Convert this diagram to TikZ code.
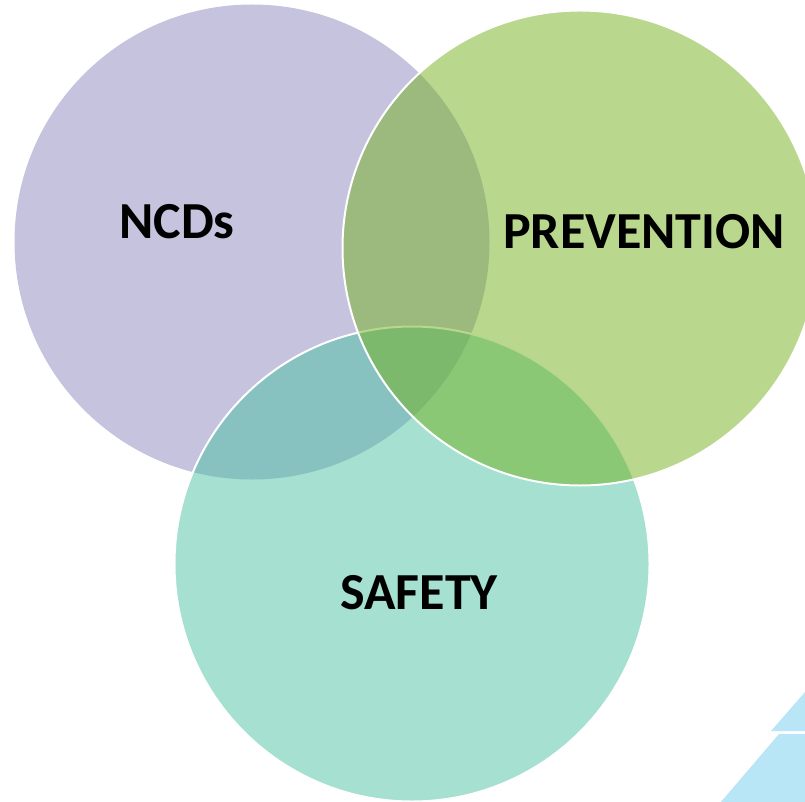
\documentclass[tikz,border=0pt]{standalone}
\usepackage{fontspec}
\setmainfont{Carlito}
\newlength{\du}
\setlength{\du}{1pt}

\definecolor{ncdcolor}{RGB}{139,135,189}
\definecolor{safetycolor}{RGB}{75,193,163}
\definecolor{preventcolor}{RGB}{115,177,29}
\definecolor{decocolor}{RGB}{184,230,246}

\begin{document}
\begin{tikzpicture}[
  venncircle/.style={circle, minimum size=475\du, inner sep=0pt, outer sep=0pt,
    fill opacity=0.5, line width=2\du},
  vennlabel/.style={anchor=base, inner sep=0pt, text=black,
    font=\fontsize{52}{60}\selectfont\bfseries}]
\pgftransformxscale{1.000000}
\pgftransformyscale{-1.000000}
\useasboundingbox (0\du,0\du) rectangle (805\du,802\du);
\clip (0\du,0\du) rectangle (805\du,802\du);
% circles
\node[venncircle, fill=ncdcolor] (ncd) at (252\du,242\du) {};
\node[venncircle, fill=safetycolor, draw=white] (safety) at (412\du,564\du) {};
\node[venncircle, fill=preventcolor, draw=white] (prevention) at (580\du,248\du) {};
% labels
\node[vennlabel] (ncdlabel) at (177\du,239\du) {NCDs};
\node[vennlabel] (preventlabel) at (644\du,248\du) {PREVENTION};
\node[vennlabel] (safetylabel) at (419\du,609\du) {SAFETY};
% corner shapes
\fill[decocolor] (771\du,731\du)--(825\du,669\du)--(825\du,731\du)--cycle;
\fill[decocolor] (779\du,734\du)--(825\du,734\du)--(825\du,810\du)--(714\du,810\du)--cycle;
\end{tikzpicture}
\end{document}
